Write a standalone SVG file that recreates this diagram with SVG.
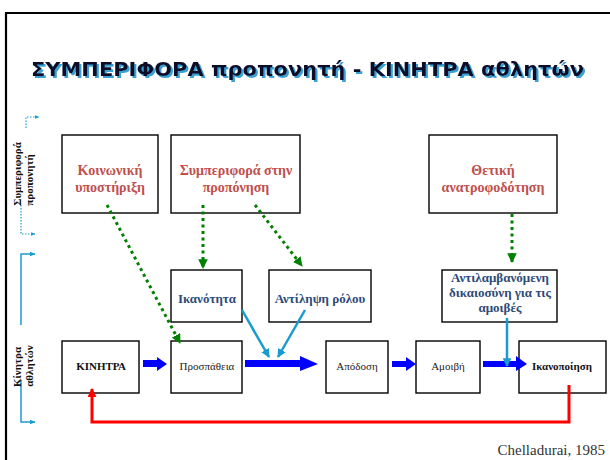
<svg xmlns="http://www.w3.org/2000/svg" width="610" height="460" viewBox="0 0 610 460">
<defs>
<style>
.box{fill:#fff;stroke:#000;stroke-width:1.4}
.red{font-family:"Liberation Serif",serif;font-weight:bold;font-size:14px;fill:#c0504d;text-anchor:middle}
.nav{font-family:"Liberation Serif",serif;font-weight:bold;font-size:13px;fill:#2e4a78;text-anchor:middle}
.blk{font-family:"Liberation Serif",serif;font-size:11px;fill:#222;text-anchor:middle}
.bb{font-family:"Liberation Serif",serif;font-weight:bold;font-size:11px;fill:#111;text-anchor:middle}
.side{font-family:"Liberation Serif",serif;font-weight:bold;font-size:11px;fill:#111;text-anchor:middle}
.green{stroke:#008000;stroke-width:3;stroke-dasharray:3,3.5;fill:none}
.lb{stroke:#1a9bd0;stroke-width:2.5;fill:none}
.bl{fill:#0000ff}
</style>
<filter id="ts" x="-5%" y="-30%" width="110%" height="160%">
<feOffset in="SourceAlpha" dx="2" dy="2" result="o"/>
<feFlood flood-color="#3aa0d4"/>
<feComposite in2="o" operator="in" result="s"/>
<feMerge><feMergeNode in="s"/><feMergeNode in="SourceGraphic"/></feMerge>
</filter>
<marker id="gh" viewBox="0 0 10 10" refX="9" refY="5" markerWidth="3.2" markerHeight="3.2" orient="auto" markerUnits="strokeWidth"><path d="M0,0 L10,5 L0,10 z" fill="#008000"/></marker>
<marker id="lh" viewBox="0 0 10 10" refX="9" refY="5" markerWidth="3.5" markerHeight="3.5" orient="auto" markerUnits="strokeWidth"><path d="M0,0 L10,5 L0,10 z" fill="#1a9bd0"/></marker>
<marker id="rh" viewBox="0 0 10 10" refX="9" refY="5" markerWidth="3" markerHeight="3" orient="auto" markerUnits="strokeWidth"><path d="M0,0 L10,5 L0,10 z" fill="#ff0000"/></marker>
<marker id="sh" viewBox="0 0 10 10" refX="9" refY="5" markerWidth="4" markerHeight="4" orient="auto" markerUnits="strokeWidth"><path d="M0,1 L10,5 L0,9 z" fill="#1a9bd0"/></marker>
</defs>
<rect width="610" height="460" fill="#fff"/>
<!-- frame -->
<path d="M6,460 L6,13 L610,13" fill="none" stroke="#000" stroke-width="2.2"/>
<!-- title -->
<g id="title">
<text x="31" y="76" font-family="'DejaVu Sans',Verdana,sans-serif" font-weight="bold" font-size="20" fill="#0a0a2a" textLength="553" lengthAdjust="spacingAndGlyphs" filter="url(#ts)">ΣΥΜΠΕΡΙΦΟΡΑ προπονητή - ΚΙΝΗΤΡΑ αθλητών</text>
</g>
<!-- side labels -->
<g id="side-coach">
<polyline points="26,128 26,117 39,117" fill="none" stroke="#1a9bd0" stroke-width="1.2" stroke-dasharray="1.5,1.5" marker-end="url(#sh)"/>
<polyline points="21,205 21,234 35,234" fill="none" stroke="#1a9bd0" stroke-width="1.2" stroke-dasharray="1.5,1.5" marker-end="url(#sh)"/>
<text class="side" font-size="11.5" transform="translate(21,174) rotate(-90)">Συμπεριφορά</text>
<text class="side" font-size="11.5" transform="translate(33,180) rotate(-90)">προπονητή</text>
</g>
<g id="side-athlete">
<polyline points="21,325 21,254 35,254" fill="none" stroke="#1a9bd0" stroke-width="1.5" marker-end="url(#sh)"/>
<polyline points="21,380 21,422 35,422" fill="none" stroke="#1a9bd0" stroke-width="1.5" marker-end="url(#sh)"/>
<text class="side" transform="translate(21,367) rotate(-90)">Κίνητρα</text>
<text class="side" transform="translate(33,366) rotate(-90)">αθλητών</text>
</g>
<!-- nodes -->
<g id="n-social"><rect class="box" x="62" y="135" width="96" height="78"/><text class="red" x="110" y="175">Κοινωνική</text><text class="red" x="110" y="192">υποστήριξη</text></g>
<g id="n-training"><rect class="box" x="171" y="135" width="129" height="78"/><text class="red" x="236" y="175">Συμπεριφορά στην</text><text class="red" x="236" y="192">προπόνηση</text></g>
<g id="n-feedback"><rect class="box" x="429" y="135" width="128" height="78"/><text class="red" x="493" y="175">Θετική</text><text class="red" x="493" y="192">ανατροφοδότηση</text></g>
<g id="n-ability"><rect class="box" x="171" y="270" width="71" height="52"/><text class="nav" x="207" y="303">Ικανότητα</text></g>
<g id="n-role"><rect class="box" x="269" y="270" width="102" height="52"/><text class="nav" x="320" y="303">Αντίληψη ρόλου</text></g>
<g id="n-equity"><rect class="box" x="442" y="270" width="115" height="52"/><text class="nav" x="500" y="282" font-size="12.5">Αντιλαμβανόμενη</text><text class="nav" x="500" y="297" font-size="12.5">δικαιοσύνη για τις</text><text class="nav" x="500" y="312" font-size="12.5">αμοιβές</text></g>
<g id="n-motives"><rect class="box" x="62" y="341" width="77" height="52"/><text class="bb" x="101" y="370">ΚΙΝΗΤΡΑ</text></g>
<g id="n-effort"><rect class="box" x="171" y="341" width="71" height="52"/><text class="blk" x="207" y="370">Προσπάθεια</text></g>
<g id="n-performance"><rect class="box" x="326" y="341" width="62" height="52"/><text class="blk" x="357" y="370">Απόδοση</text></g>
<g id="n-reward"><rect class="box" x="416" y="341" width="64" height="52"/><text class="blk" x="448" y="370">Αμοιβή</text></g>
<g id="n-satisfaction"><rect class="box" x="519" y="341" width="87" height="52"/><text class="bb" x="562" y="370">Ικανοποίηση</text></g>
<!-- connectors -->
<g id="connectors">
<line class="green" x1="107" y1="205" x2="180" y2="343" marker-end="url(#gh)"/>
<line class="green" x1="203" y1="205" x2="203" y2="268" marker-end="url(#gh)"/>
<line class="green" x1="255" y1="205" x2="302" y2="266" marker-end="url(#gh)"/>
<line class="green" x1="512" y1="214" x2="512" y2="262" marker-end="url(#gh)"/>
<polygon class="bl" points="143,360 157,360 157,357 167,364 157,371 157,367 143,367"/>
<polygon class="bl" points="245,360 300,360 300,356 318,364 300,371 300,367 245,367"/>
<polygon class="bl" points="392,361 406,361 406,357 416,364 406,371 406,367 392,367"/>
<polygon class="bl" points="483,361 516,361 516,356 527,364 516,371 516,367 483,367"/>
<line class="lb" x1="242" y1="310" x2="269" y2="357" marker-end="url(#lh)"/>
<line class="lb" x1="305" y1="310" x2="278" y2="357" marker-end="url(#lh)"/>
<line class="lb" x1="507" y1="318" x2="507" y2="366" marker-end="url(#lh)"/>
<polyline points="569,385 569,422 92,422 92,389" fill="none" stroke="#ff0000" stroke-width="3" marker-end="url(#rh)"/>
</g>
<text x="605" y="455" font-family="'Liberation Serif',serif" font-size="15" fill="#333" text-anchor="end">Chelladurai, 1985</text>
</svg>
